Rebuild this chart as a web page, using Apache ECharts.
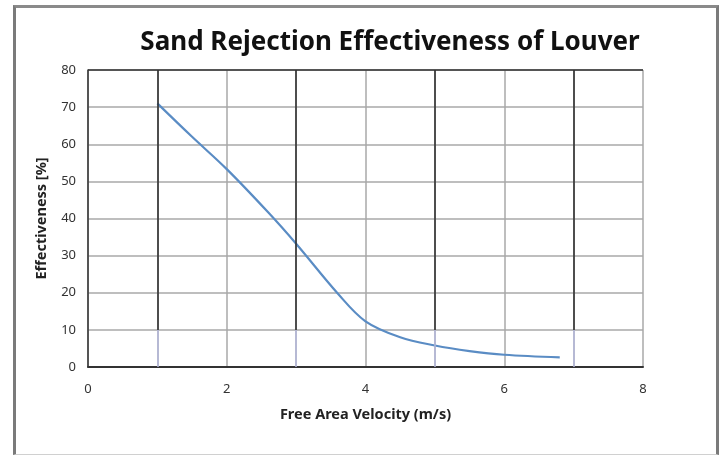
<!DOCTYPE html>
<html>
<head>
<meta charset="utf-8">
<script src="https://cdn.jsdelivr.net/npm/echarts@6/dist/echarts.min.js"></script>
<style>
html,body{margin:0;padding:0;background:#fff;}
#frame{position:absolute;left:13px;top:5px;width:700px;height:446px;border-left:3px solid #7a7a7a;border-top:3px solid #8a8a8a;border-right:3px solid #7a7a7a;border-bottom:1px solid #d0d0d0;}
#c{position:absolute;left:0;top:0;width:720px;height:455px;}
</style>
</head>
<body>
<div id="frame"></div>
<div id="c"></div>
<script>
const titleText = "Sand Rejection Effectiveness of Louver";
const xName = "Free Area Velocity (m/s)";
const yName = "Effectiveness [%]";
const velocity = [1, 1.5, 2, 2.6, 3, 3.6, 4, 4.5, 5, 5.5, 6, 6.8];
const effectiveness = [71, 62, 53.3, 41.6, 33.2, 19.8, 12.3, 8, 5.8, 4.3, 3.3, 2.6];
const darkLinesX = [1, 3, 5, 7];
const xTicks = [0, 2, 4, 6, 8];

const chart = echarts.init(document.getElementById('c'));
const fam = "Noto Sans";
const darkUpper = darkLinesX.map(v => [{coord: [v, 10]}, {coord: [v, 80]}]);
const lightLower = darkLinesX.map(v => [{coord: [v, 0]}, {coord: [v, 10]}]);
chart.setOption({
  animation: false,
  backgroundColor: 'transparent',
  title: {
    text: titleText, left: 385, top: 25, textAlign: 'center',
    textStyle: {fontFamily: fam, fontWeight: 'bold', fontSize: 26, color: '#111'}
  },
  grid: {left: 88, right: 77, top: 70, bottom: 88, show: false},
  xAxis: {
    type: 'value', min: 0, max: 8, interval: 1,
    name: xName, nameLocation: 'middle', nameGap: 40,
    nameTextStyle: {fontFamily: fam, fontWeight: 'bold', fontSize: 14.5, color: '#222'},
    axisLine: {show: true, onZero: false, lineStyle: {color: '#333', width: 2}},
    axisTick: {show: false},
    axisLabel: {
      fontFamily: fam, fontSize: 13, color: '#333', margin: 16,
      formatter: v => xTicks.includes(v) ? String(v) : ''
    },
    splitLine: {show: true, lineStyle: {color: '#a8a8a8', width: 1.5}}
  },
  yAxis: {
    type: 'value', min: 0, max: 80, interval: 10,
    name: yName, nameLocation: 'middle', nameGap: 39,
    nameTextStyle: {fontFamily: fam, fontWeight: 'bold', fontSize: 14.5, color: '#222'},
    axisLine: {show: true, lineStyle: {color: '#333', width: 1.5}},
    axisTick: {show: false},
    axisLabel: {fontFamily: fam, fontSize: 13, color: '#333', margin: 12},
    splitLine: {show: true, lineStyle: {color: '#a8a8a8', width: 1.5}}
  },
  series: [
    {
      type: 'line', silent: true,
      data: velocity.map((v, i) => [v, effectiveness[i]]),
      smooth: 0.35, showSymbol: false,
      lineStyle: {color: '#5a8cc4', width: 2.2},
      markLine: {
        silent: true, symbol: 'none', label: {show: false},
        lineStyle: {color: '#2a2a2a', width: 1.5, type: 'solid'},
        data: darkUpper
      },
      z: 3
    },
    {
      type: 'line', silent: true, data: [],
      markLine: {
        silent: true, symbol: 'none', label: {show: false},
        lineStyle: {color: '#b4b8dc', width: 1.5, type: 'solid'},
        data: lightLower
      },
      z: 2
    },
    {
      type: 'line', silent: true, data: [],
      markLine: {
        silent: true, symbol: 'none', label: {show: false},
        lineStyle: {color: '#333', width: 1.5, type: 'solid'},
        data: [[{coord: [0, 80]}, {coord: [8, 80]}]]
      },
      z: 2
    }
  ]
});
</script>
</body>
</html>
